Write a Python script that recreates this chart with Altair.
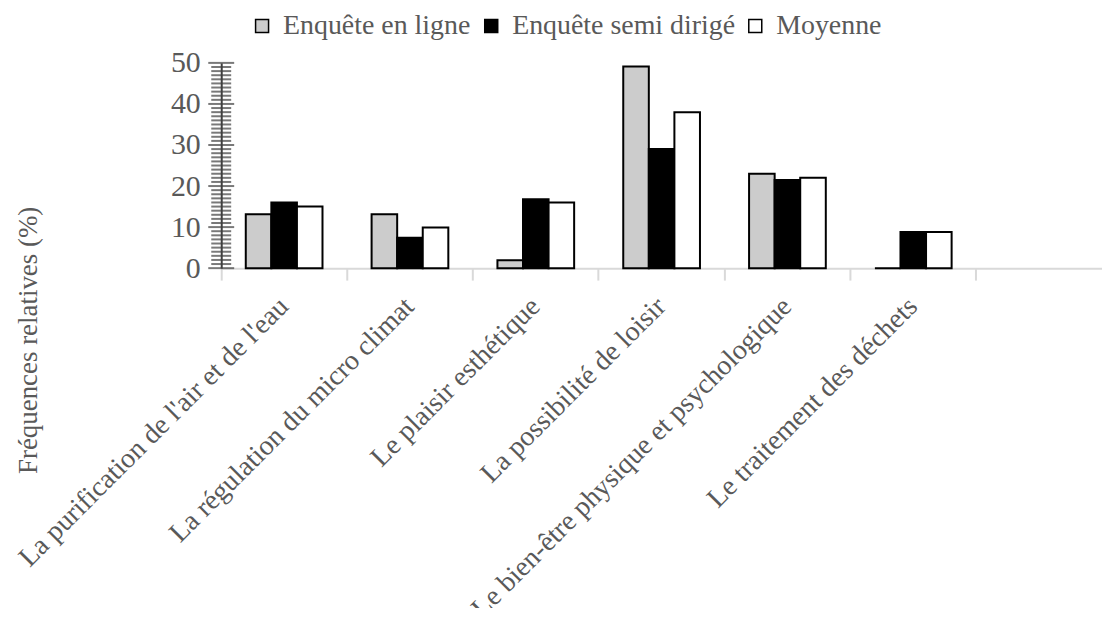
import altair as alt
import pandas as pd

categories = [
    "La purification de l'air et de l'eau",
    "La régulation du micro climat",
    "Le plaisir esthétique",
    "La possibilité de loisir",
    "Le bien-être physique et psychologique",
    "Le traitement des déchets",
]
series_names = ["Enquête en ligne", "Enquête semi dirigé", "Moyenne"]
enquete_en_ligne = [13.1, 13.1, 1.9, 49.1, 23.0, 0.0]
enquete_semi_dirige = [16.0, 7.4, 16.8, 29.0, 21.5, 8.8]
moyenne = [15.0, 9.9, 16.0, 38.0, 22.0, 8.8]
series_colors = ["#cccccc", "#000000", "#ffffff"]
y_ticks = list(range(0, 51))

rows = []
for name, vals in zip(series_names, [enquete_en_ligne, enquete_semi_dirige, moyenne]):
    for c, v in zip(categories, vals):
        rows.append({"cat": c, "serie": name, "val": v})
df = pd.DataFrame(rows)
ticks_df = pd.DataFrame({"t": y_ticks, "major": [t % 10 == 0 for t in y_ticks]})

FONT = "Liberation Serif"
TXT = "#595959"
W, H = 884, 206
x_domain = categories + [" "]

bars = alt.Chart(df).mark_bar(stroke="black", strokeWidth=2).encode(
    x=alt.X("cat:N", sort=x_domain,
            scale=alt.Scale(domain=x_domain, paddingInner=0, paddingOuter=0),
            axis=alt.Axis(title=None, bandPosition=0,
                          labelAngle=-45, labelAlign="right", labelBaseline="middle",
                          labelPadding=22, labelFont=FONT, labelFontSize=28,
                          labelColor=TXT, labelLimit=800, labelOverlap=False,
                          domainColor="#d9d9d9", domainWidth=2,
                          tickColor="#d9d9d9", tickWidth=2, tickSize=12)),
    xOffset=alt.XOffset("serie:N", sort=series_names,
                        scale=alt.Scale(domain=series_names, paddingInner=0, paddingOuter=0.96)),
    y=alt.Y("val:Q", scale=alt.Scale(domain=[0, 50], nice=False),
            axis=alt.Axis(title="Fréquences relatives (%)", values=[0, 10, 20, 30, 40, 50],
                          labelFont=FONT, labelFontSize=30, labelColor=TXT,
                          labelPadding=21, labelOverlap=False, grid=False,
                          ticks=False,
                          domainColor="#404040", domainWidth=2,
                          titleFont=FONT, titleFontSize=27, titleColor=TXT,
                          titleFontWeight="normal", titleAngle=270,
                          titleX=-193, titleY=278, titleAlign="center",
                          titleBaseline="middle")),
    fill=alt.Fill("serie:N", sort=series_names,
                  scale=alt.Scale(domain=series_names, range=series_colors),
                  legend=alt.Legend(title=None, orient="none", direction="horizontal",
                                    legendX=27, legendY=-51,
                                    symbolType="square", symbolSize=170,
                                    symbolStrokeColor="black", symbolStrokeWidth=1.5,
                                    labelFont=FONT, labelFontSize=28, labelColor=TXT,
                                    labelLimit=400,
                                    labelOffset=7, columnPadding=6)),
)

minor_ticks = alt.Chart(ticks_df).transform_filter("!datum.major").mark_tick(
    color="#404040", thickness=2, size=20, orient="horizontal"
).encode(
    y=alt.Y("t:Q"),
    x=alt.value(0),
)

major_ticks = alt.Chart(ticks_df).transform_filter("datum.major").mark_tick(
    color="#404040", thickness=2, size=26, orient="horizontal"
).encode(
    y=alt.Y("t:Q"),
    x=alt.value(0),
)

chart = alt.layer(bars, minor_ticks, major_ticks).properties(
    width=W, height=H,
    autosize=alt.AutoSizeParams(type="none"),
    padding={"left": 214, "top": 54, "right": 0, "bottom": 340},
).configure(background="white", font=FONT).configure_view(stroke=None).configure_legend(
    labelFont=FONT, labelFontSize=28, labelColor=TXT
)

chart.save("out.html", embed_options={"renderer": "svg", "actions": False})
